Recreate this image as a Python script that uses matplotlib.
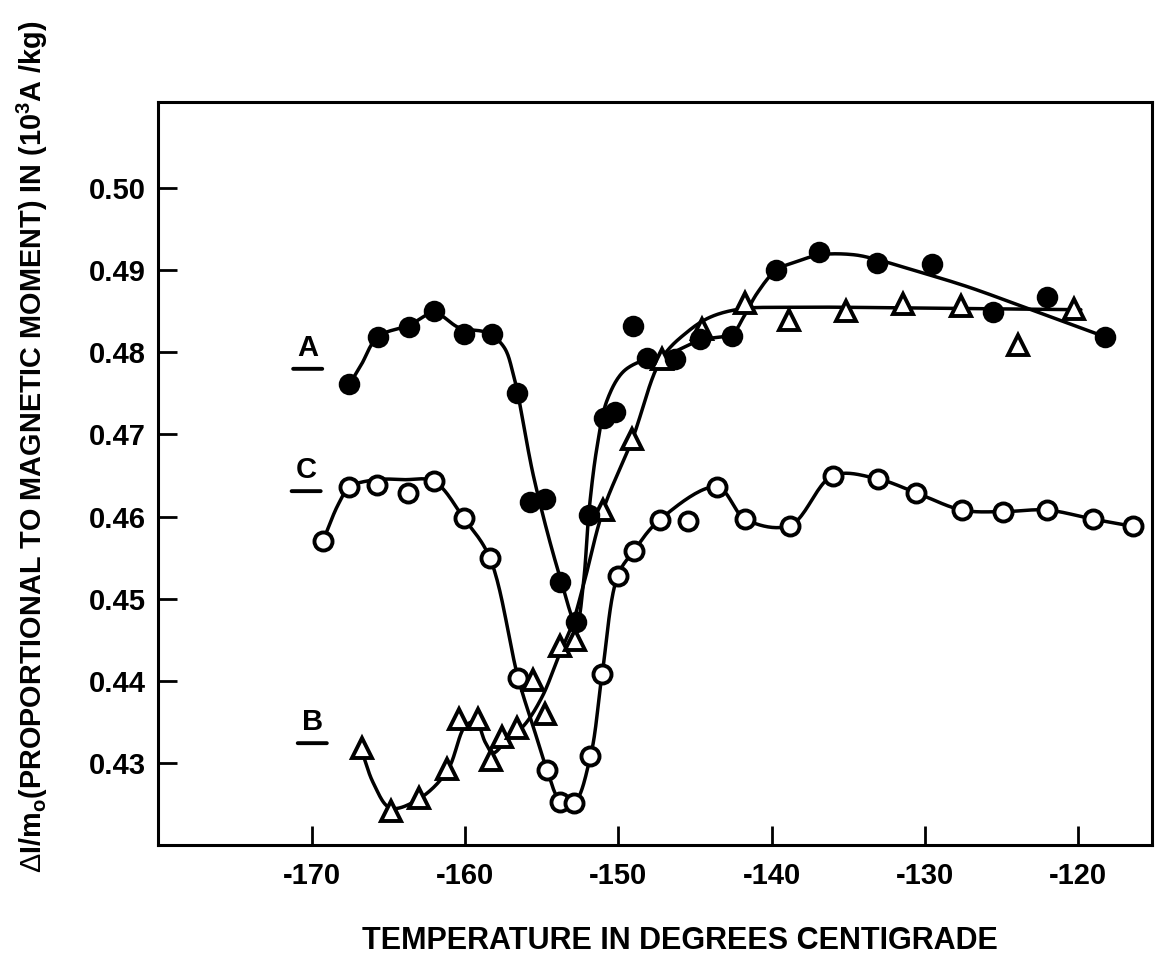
import numpy as np
import matplotlib
matplotlib.use('Agg')
import matplotlib.pyplot as plt

# ---------------- data ----------------
# Series A (filled circles)
a_temp = [-167.57, -165.72, -163.69, -162.02, -160.10, -158.25, -156.62, -155.75, -154.77,
          -153.79, -152.75, -151.95, -150.97, -150.20, -149.05, -148.13, -146.29, -144.65,
          -142.58, -139.71, -136.93, -133.12, -129.53, -125.51, -122.02, -118.22]
a_val = [0.4761, 0.4819, 0.4831, 0.4850, 0.4823, 0.4823, 0.4750, 0.4618, 0.4621,
         0.4520, 0.4472, 0.4602, 0.4720, 0.4728, 0.4832, 0.4793, 0.4792, 0.4816,
         0.4820, 0.4900, 0.4922, 0.4909, 0.4908, 0.4849, 0.4868, 0.4819]

# Series B (open triangles)
b_temp = [-166.78, -164.89, -163.04, -161.19, -160.43, -159.16, -158.30, -157.60, -156.62,
          -155.60, -154.77, -153.84, -152.81, -151.01, -149.11, -147.15, -144.54, -141.72,
          -138.89, -135.12, -131.42, -127.64, -123.88, -120.24]
b_val = [0.4318, 0.4241, 0.4257, 0.4292, 0.4353, 0.4353, 0.4304, 0.4332, 0.4343,
         0.4401, 0.4359, 0.4442, 0.4450, 0.4608, 0.4694, 0.4792, 0.4828, 0.4860,
         0.4840, 0.4850, 0.4859, 0.4857, 0.4809, 0.4853]

# Series C (open circles)
c_temp = [-169.31, -167.57, -165.80, -163.76, -162.06, -160.10, -158.41, -156.55, -154.66,
          -153.84, -152.92, -151.83, -151.07, -150.05, -149.01, -147.31, -145.46, -143.56,
          -141.72, -138.82, -135.99, -133.08, -130.55, -127.57, -124.90, -122.02, -119.02,
          -116.37]
c_val = [0.4570, 0.4636, 0.4639, 0.4629, 0.4643, 0.4598, 0.4550, 0.4403, 0.4291,
         0.4252, 0.4251, 0.4308, 0.4408, 0.4528, 0.4558, 0.4596, 0.4595, 0.4636,
         0.4597, 0.4589, 0.4650, 0.4646, 0.4629, 0.4608, 0.4606, 0.4608, 0.4597,
         0.4588]

# Hand-drawn fitted curves
a_curve_temp = [-167.57, -166.8, -165.72, -163.69, -162.02, -160.4, -158.6, -157.5, -156.84,
                -155.5, -153.8, -152.75, -152.27, -151.95, -151.4, -150.74, -149.66, -148.13,
                -146.85, -144.65, -142.58, -141.8, -140.95, -139.7, -138.3, -136.8, -134.65,
                -133.1, -130.7, -127.2, -122.9, -118.22]
a_curve_val = [0.4761, 0.4785, 0.4819, 0.4833, 0.4848, 0.4830, 0.4824, 0.4807, 0.4771,
               0.4645, 0.4525, 0.4469, 0.4523, 0.4602, 0.4685, 0.4742, 0.4777, 0.4792,
               0.4797, 0.4815, 0.4823, 0.4844, 0.4872, 0.4900, 0.4911, 0.4919, 0.4919,
               0.4913, 0.4900, 0.4880, 0.4851, 0.4819]

b_curve_temp = [-166.78, -166.0, -164.9, -163.04, -161.19, -160.0, -159.3, -158.7, -158.2,
                -157.2, -156.2, -155.0, -153.9, -153.0, -152.2, -151.0, -149.1, -147.2,
                -145.5, -144.0, -142.0, -139.0, -130.0, -119.8]
b_curve_val = [0.4315, 0.4275, 0.4245, 0.4256, 0.4290, 0.4345, 0.4350, 0.4325, 0.4312,
               0.4330, 0.4345, 0.4380, 0.4430, 0.4470, 0.4523, 0.4608, 0.4694, 0.4792,
               0.4825, 0.4843, 0.4853, 0.4855, 0.4854, 0.4852]

c_curve_temp = [-169.31, -168.3, -167.57, -165.8, -164.0, -162.06, -160.10, -158.41,
                -156.55, -155.5, -154.66, -153.84, -152.92, -151.83, -151.07, -150.05, -149.01,
                -147.31, -143.56, -141.72, -138.82, -135.99, -133.08, -130.55, -127.57,
                -124.90, -122.02, -119.02, -116.37]
c_curve_val = [0.4570, 0.4615, 0.4636, 0.4645, 0.4645, 0.4643, 0.4598, 0.4550,
               0.4403, 0.4340, 0.4291, 0.4255, 0.4251, 0.4308, 0.4408, 0.4528, 0.4558,
               0.4596, 0.4636, 0.4597, 0.4589, 0.4650, 0.4646, 0.4629, 0.4608,
               0.4606, 0.4608, 0.4597, 0.4588]

x_ticks = [-170, -160, -150, -140, -130, -120]
y_ticks = [0.43, 0.44, 0.45, 0.46, 0.47, 0.48, 0.49, 0.50]
series_labels = ['A', 'B', 'C']
label_anchor_temp = [-170.3, -170.0, -170.4]
label_anchor_val = [0.4780, 0.4324, 0.4631]

# ---------------- drawing ----------------
def smooth_line(xs, ys, n=24):
    """Centripetal Catmull-Rom rendering of a hand-drawn line through given points."""
    P = np.column_stack([np.asarray(xs, float) * 15.3, np.asarray(ys, float) * 8214.0])
    P = np.vstack([2 * P[0] - P[1], P, 2 * P[-1] - P[-2]])
    out = []
    for i in range(1, len(P) - 2):
        p0, p1, p2, p3 = P[i - 1], P[i], P[i + 1], P[i + 2]
        d01 = max(np.linalg.norm(p1 - p0), 1e-6) ** 0.5
        d12 = max(np.linalg.norm(p2 - p1), 1e-6) ** 0.5
        d23 = max(np.linalg.norm(p3 - p2), 1e-6) ** 0.5
        t0, t1 = 0.0, d01
        t2, t3 = t1 + d12, t1 + d12 + d23
        t = np.linspace(t1, t2, n)[:, None]
        A1 = (t1 - t) / (t1 - t0) * p0 + (t - t0) / (t1 - t0) * p1
        A2 = (t2 - t) / (t2 - t1) * p1 + (t - t1) / (t2 - t1) * p2
        A3 = (t3 - t) / (t3 - t2) * p2 + (t - t2) / (t3 - t2) * p3
        B1 = (t2 - t) / (t2 - t0) * A1 + (t - t0) / (t2 - t0) * A2
        B2 = (t3 - t) / (t3 - t1) * A2 + (t - t1) / (t3 - t1) * A3
        C = (t2 - t) / (t2 - t1) * B1 + (t - t1) / (t2 - t1) * B2
        out.append(C if i == 1 else C[1:])
    C = np.vstack(out)
    return C[:, 0] / 15.3, C[:, 1] / 8214.0

plt.rcParams['font.family'] = ['Liberation Sans', 'DejaVu Sans']
plt.rcParams['mathtext.fontset'] = 'custom'
plt.rcParams['mathtext.rm'] = 'Liberation Sans'
plt.rcParams['mathtext.bf'] = 'Liberation Sans:bold'

fig = plt.figure(figsize=(11.58, 9.67), dpi=100)
ax = fig.add_axes([0.1364, 0.1262, 0.8582, 0.7683])

lw = 2.5
for xs, ys in [(a_curve_temp, a_curve_val), (b_curve_temp, b_curve_val), (c_curve_temp, c_curve_val)]:
    sx, sy = smooth_line(xs, ys)
    ax.plot(sx, sy, color='black', lw=lw, solid_capstyle='round', zorder=2)

ax.plot(a_temp, a_val, 'o', ms=14, mfc='black', mec='black', mew=1.5, zorder=4)
ax.plot(b_temp, b_val, '^', ms=14, mfc='white', mec='black', mew=2.8, zorder=3)
ax.plot(c_temp, c_val, 'o', ms=13, mfc='white', mec='black', mew=2.8, zorder=3)

for lab, tx, ty in zip(series_labels, label_anchor_temp, label_anchor_val):
    ax.annotate(lab, xy=(tx, ty), xytext=(0, 5), textcoords='offset points',
                ha='center', va='bottom', fontsize=21, fontweight='bold')
    ax.annotate('', xy=(tx - 0.95, ty), xytext=(tx + 0.95, ty),
                arrowprops=dict(arrowstyle='-', lw=2.8, color='black', shrinkA=0, shrinkB=0))

ax.set_xlim(-180.08, -115.17)
ax.set_ylim(0.4200, 0.5105)
ax.set_xticks(x_ticks)
ax.set_xticklabels([str(v).replace('\u2212', '-') for v in x_ticks])
ax.set_yticks(y_ticks)
ax.set_yticklabels(['%.2f' % v for v in y_ticks])
ax.tick_params(direction='in', length=14, width=2, labelsize=21, pad=9)
for lbl in ax.get_xticklabels() + ax.get_yticklabels():
    lbl.set_fontweight('bold')
ax.tick_params(axis='x', pad=12)
for sp in ax.spines.values():
    sp.set_linewidth(2.2)

fig.text(0.587, 0.027, 'TEMPERATURE IN DEGREES CENTIGRADE', ha='center', va='center',
         fontsize=22, fontweight='bold')
fig.text(0.028, 0.5377,
         r'$\Delta$I/m$_\mathbf{o}$(PROPORTIONAL TO MAGNETIC MOMENT) IN (10$^\mathbf{3}$A /kg)',
         ha='center', va='center', rotation=90, fontsize=20.8, fontweight='bold')

fig.savefig('out.png', dpi=100, facecolor='white')
